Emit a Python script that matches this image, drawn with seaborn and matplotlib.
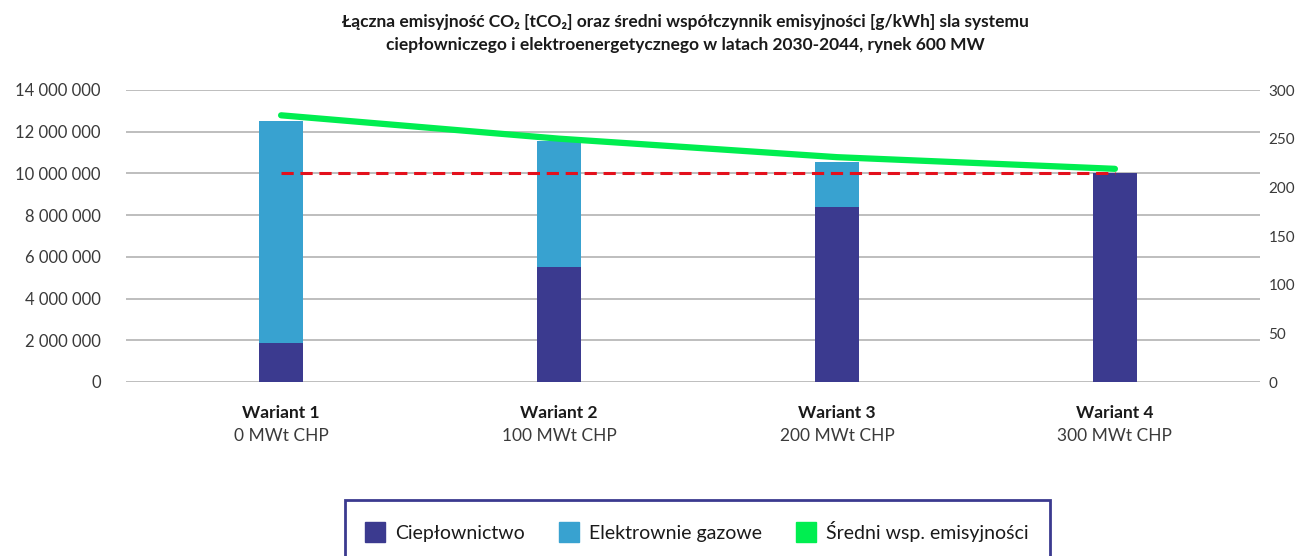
import matplotlib.pyplot as plt
import matplotlib.patches as mpatches
from matplotlib.lines import Line2D
import numpy as np
import pandas as pd
import seaborn as sns

variants = ["Wariant 1", "Wariant 2", "Wariant 3", "Wariant 4"]
chp = ["0 MWt CHP", "100 MWt CHP", "200 MWt CHP", "300 MWt CHP"]
cieplownictwo = [1870000, 5510000, 8390000, 10020000]
elektrownie = [10640000, 6040000, 2160000, 0]
sredni_wsp = [274, 250, 231, 219]
poziom_ref = [215, 215, 215, 215]

DARK = "#3b3a8f"
LIGHT = "#38a2d0"
GREEN = "#00ee50"
RED = "#e3101c"
TXT = "#3a3a3a"

sns.set_style("white")
plt.rcParams["font.family"] = ["Lato", "DejaVu Sans"]

df = pd.DataFrame({"wariant": variants, "ciep": cieplownictwo, "elek": elektrownie})
df["total"] = df["ciep"] + df["elek"]

fig = plt.figure(figsize=(13, 5.56), dpi=100)
ax = fig.add_axes([126 / 1300, 1 - 382 / 556, (1260 - 126) / 1300, 292 / 556])

# stacked bars: total in light blue, heating part drawn over it
sns.barplot(data=df, x="wariant", y="total", color=LIGHT, width=0.16, saturation=1,
            linewidth=0, ax=ax, zorder=2)
sns.barplot(data=df, x="wariant", y="ciep", color=DARK, width=0.16, saturation=1,
            linewidth=0, ax=ax, zorder=3)

ax.set_ylim(0, 14000000)
ax.set_yticks(np.arange(0, 14000001, 2000000))
ax.set_yticklabels([f"{int(v):,}".replace(",", " ") for v in ax.get_yticks()], fontsize=12, color=TXT)
ax.set_xlim(-0.558, 3.522)
ax.yaxis.grid(True, color="#b3b3b3", linewidth=1.2, zorder=0)
ax.set_axisbelow(True)
ax.tick_params(axis="y", length=0, pad=18)
ax.tick_params(axis="x", length=0)
ax.set_xticks(range(4))
ax.set_xticklabels([""] * 4)
ax.set_xlabel("")
ax.set_ylabel("")
for s in ax.spines.values():
    s.set_visible(False)

tr = ax.get_xaxis_transform()
for i, (v, c) in enumerate(zip(variants, chp)):
    ax.text(i, -0.106, v, transform=tr, ha="center", va="center", fontsize=12.5,
            fontweight="bold", color="#1a1a1a")
    ax.text(i, -0.185, c, transform=tr, ha="center", va="center", fontsize=12.5, color=TXT)

ax2 = ax.twinx()
pos = np.arange(len(variants))
sns.lineplot(x=pos, y=poziom_ref, ax=ax2, color=RED, linewidth=2.2, linestyle=(0, (4, 2.2)), zorder=4)
sns.lineplot(x=pos, y=sredni_wsp, ax=ax2, color=GREEN, linewidth=4.5, zorder=5,
             solid_capstyle="round")
ax2.set_ylim(0, 300)
ax2.set_yticks(np.arange(0, 301, 50))
ax2.set_yticklabels([str(v) for v in range(0, 301, 50)], fontsize=11, color=TXT)
ax2.tick_params(axis="y", length=0, pad=6)
ax2.set_xlim(-0.558, 3.522)
ax2.set_ylabel("")
for s in ax2.spines.values():
    s.set_visible(False)

fig.text(685 / 1300, 1 - 22 / 556, "Łączna emisyjność CO₂ [tCO₂] oraz średni współczynnik emisyjności [g/kWh] sla systemu",
         ha="center", va="center", fontsize=12.5, fontweight="bold", color="#1a1a1a")
fig.text(685 / 1300, 1 - 45 / 556, "ciepłowniczego i elektroenergetycznego w latach 2030-2044, rynek 600 MW",
         ha="center", va="center", fontsize=12.5, fontweight="bold", color="#1a1a1a")

box = mpatches.Rectangle((345 / 1300, -0.05), (1050 - 345) / 1300, 0.05 + 1 - 500 / 556,
                         transform=fig.transFigure, fill=False, edgecolor=DARK, linewidth=2)
fig.patches.append(box)

handles = [
    Line2D([], [], marker="s", linestyle="none", markersize=14, color=DARK),
    Line2D([], [], marker="s", linestyle="none", markersize=14, color=LIGHT),
    Line2D([], [], marker="s", linestyle="none", markersize=14, color=GREEN),
]
labels = ["Ciepłownictwo", "Elektrownie gazowe", "Średni wsp. emisyjności"]
fig.legend(handles, labels, loc="center", bbox_to_anchor=(697 / 1300, 1 - 531 / 556), ncol=3,
           frameon=False, fontsize=14, handletextpad=0.5, columnspacing=1.8,
           labelcolor="#1a1a1a", handlelength=1.0)

fig.savefig("out.png", dpi=100)
